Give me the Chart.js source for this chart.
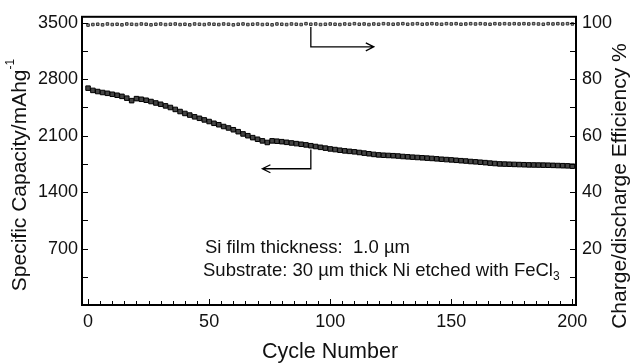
<!DOCTYPE html>
<html>
<head>
<meta charset="utf-8">
<script src="https://cdn.jsdelivr.net/npm/chart.js@4.4.0/dist/chart.umd.min.js"></script>
<style>
html, body { margin: 0; padding: 0; background: #fff; }
#wrap { width: 632px; height: 363px; position: relative; }
</style>
</head>
<body>
<div id="wrap"><canvas id="chartCanvasCiclos" width="632" height="363"></canvas></div>
<script>
// cycles sampled every 2
var ciclos = [];
for (var ci = 0; ci <= 200; ci += 2) ciclos.push(ci);

var capacidad = [
  2690, 2662, 2648, 2636, 2626, 2614, 2602, 2588, 2566, 2535,
  2560, 2552, 2540, 2524, 2506, 2490, 2470, 2450, 2426, 2400,
  2376, 2356, 2334, 2316, 2296, 2276, 2254, 2236, 2214, 2196,
  2174, 2150, 2122, 2100, 2076, 2056, 2036, 2016, 2036, 2032,
  2026, 2018, 2010, 2002, 1994, 1986, 1976, 1966, 1956, 1946,
  1936, 1928, 1920, 1912, 1906, 1900, 1892, 1884, 1876, 1868,
  1862, 1858, 1855, 1852, 1848, 1842, 1838, 1834, 1830, 1826,
  1822, 1818, 1813, 1808, 1804, 1800, 1795, 1790, 1786, 1780,
  1776, 1771, 1766, 1760, 1755, 1750, 1748, 1746, 1744, 1742,
  1740, 1738, 1737, 1736, 1735, 1734, 1732, 1730, 1728, 1726,
  1722
];

var eficiencia = [
  99.2, 99.4, 99.5, 99.3, 99.6, 99.4, 99.5, 99.3, 99.6, 99.5,
  99.4, 99.6, 99.5, 99.3, 99.5, 99.6, 99.4, 99.5, 99.6, 99.4,
  99.5, 99.3, 99.6, 99.5, 99.4, 99.6, 99.5, 99.4, 99.6, 99.5,
  99.3, 99.5, 99.6, 99.4, 99.5, 99.6, 99.4, 99.5, 99.3, 99.6,
  99.5, 99.4, 99.6, 99.5, 99.4, 99.7, 99.5, 99.6, 99.4, 99.5,
  99.6, 99.5, 99.4, 99.6, 99.5, 99.7, 99.5, 99.6, 99.4, 99.6,
  99.5, 99.7, 99.6, 99.5, 99.6, 99.7, 99.5, 99.6, 99.7, 99.5,
  99.6, 99.7, 99.6, 99.5, 99.7, 99.6, 99.7, 99.5, 99.6, 99.7,
  99.6, 99.7, 99.6, 99.5, 99.7, 99.6, 99.7, 99.6, 99.7, 99.6,
  99.7, 99.6, 99.7, 99.6, 99.5, 99.7, 99.6, 99.7, 99.6, 99.7,
  99.6
];

var ticksX = [0, 50, 100, 150, 200];
var ticksCap = [700, 1400, 2100, 2800, 3500];
var ticksEf = [20, 40, 60, 80, 100];

var FONT = '"Liberation Sans", Arial, Helvetica, sans-serif';
var capMax = 3575;
var efMax = capMax / 35;

var puntosCap = ciclos.map(function (c, i) { return { x: c, y: capacidad[i] }; });
var puntosEf = ciclos.map(function (c, i) { return { x: c, y: eficiencia[i] }; });

function fijarTicks(lista) {
  return function (scale) { scale.ticks = lista.map(function (v) { return { value: v }; }); };
}
function sinComas(value) { return String(value); }

// frame, inner ticks, arrows, notes, axis titles
var extrasPlugin = {
  id: 'extras',
  afterDraw: function (chart) {
    var ctx = chart.ctx;
    var a = chart.chartArea;
    var sx = chart.scales.x, sy = chart.scales.y, sy2 = chart.scales.y2;
    ctx.save();
    ctx.strokeStyle = '#000';
    ctx.lineWidth = 2;
    ctx.strokeRect(a.left, a.top, a.right - a.left, a.bottom - a.top);

    ctx.lineWidth = 1;
    ctx.beginPath();
    for (var t = 0; t <= 200; t += 5) {
      var px = Math.round(sx.getPixelForValue(t)) + 0.5;
      var len = (t % 50 === 0) ? 6 : 4;
      ctx.moveTo(px, a.bottom);
      ctx.lineTo(px, a.bottom - len);
    }
    for (var v = 350; v <= 3500; v += 350) {
      var py = Math.round(sy.getPixelForValue(v)) + 0.5;
      ctx.moveTo(a.left, py);
      ctx.lineTo(a.left + 6, py);
    }
    for (var e = 10; e <= 100; e += 10) {
      var py2 = Math.round(sy2.getPixelForValue(e)) + 0.5;
      ctx.moveTo(a.right, py2);
      ctx.lineTo(a.right - 6, py2);
    }
    ctx.stroke();

    // arrow to right axis
    ctx.lineWidth = 1.3;
    var ax = sx.getPixelForValue(92);
    var y1 = sy2.getPixelForValue(98.5), y2 = sy2.getPixelForValue(91.5);
    var xr = sx.getPixelForValue(118);
    ctx.beginPath();
    ctx.moveTo(ax, y1); ctx.lineTo(ax, y2); ctx.lineTo(xr, y2);
    ctx.moveTo(xr - 8, y2 - 4); ctx.lineTo(xr, y2); ctx.lineTo(xr - 8, y2 + 4);
    ctx.stroke();

    // arrow to left axis
    var by1 = sy.getPixelForValue(1930), by2 = sy.getPixelForValue(1690);
    var xl = sx.getPixelForValue(72);
    ctx.beginPath();
    ctx.moveTo(ax, by1); ctx.lineTo(ax, by2); ctx.lineTo(xl, by2);
    ctx.moveTo(xl + 8, by2 - 4); ctx.lineTo(xl, by2); ctx.lineTo(xl + 8, by2 + 4);
    ctx.stroke();

    // notes
    ctx.fillStyle = '#111';
    ctx.textBaseline = 'middle';
    ctx.textAlign = 'left';
    ctx.font = '18.5px ' + FONT;
    ctx.fillText('Si film thickness:  1.0 \u00b5m', 205, 248);
    var s2 = 'Substrate: 30 \u00b5m thick Ni etched with FeCl';
    ctx.fillText(s2, 203, 271);
    var w2 = ctx.measureText(s2).width;
    ctx.font = '12px ' + FONT;
    ctx.fillText('3', 203 + w2, 277);

    // axis titles
    ctx.font = '21.5px ' + FONT;
    ctx.textAlign = 'center';
    ctx.fillText('Cycle Number', 330, 352);

    ctx.save();
    ctx.translate(20, 175);
    ctx.rotate(-Math.PI / 2);
    var t1 = 'Specific Capacity/mAhg';
    ctx.font = '21px ' + FONT;
    var w1 = ctx.measureText(t1).width;
    ctx.font = '12px ' + FONT;
    var ws = ctx.measureText('-1').width;
    var x0 = -(w1 + ws) / 2;
    ctx.textAlign = 'left';
    ctx.font = '21px ' + FONT;
    ctx.fillText(t1, x0, 0);
    ctx.font = '12px ' + FONT;
    ctx.fillText('-1', x0 + w1, -9);
    ctx.restore();

    ctx.save();
    ctx.translate(620, 186);
    ctx.rotate(-Math.PI / 2);
    ctx.font = '21px ' + FONT;
    ctx.textAlign = 'center';
    ctx.fillText('Charge/discharge Efficiency %', 0, 0);
    ctx.restore();

    ctx.restore();
  }
};

var tickFont = { family: FONT, size: 18 };

new Chart(document.getElementById('chartCanvasCiclos'), {
  type: 'scatter',
  data: {
    datasets: [{
      label: 'Efficiency',
      data: puntosEf,
      yAxisID: 'y2',
      pointStyle: 'rect',
      pointRadius: 1.8,
      borderWidth: 1,
      borderColor: '#333',
      backgroundColor: '#999'
    }, {
      label: 'Capacity',
      data: puntosCap,
      yAxisID: 'y',
      pointStyle: 'rect',
      pointRadius: 3.2,
      borderWidth: 1,
      borderColor: '#000',
      backgroundColor: '#444'
    }]
  },
  options: {
    responsive: false,
    animation: false,
    layout: { padding: { top: 16, left: 0, right: 0, bottom: 0 } },
    plugins: { legend: { display: false }, tooltip: { enabled: false } },
    scales: {
      x: {
        type: 'linear', min: -2.5, max: 201.5,
        afterBuildTicks: fijarTicks(ticksX),
        afterFit: function (s) { s.height = 58; },
        grid: { display: false, drawTicks: false },
        border: { display: false },
        ticks: { font: tickFont, color: '#111', padding: 6, maxRotation: 0, callback: sinComas }
      },
      y: {
        position: 'left', min: 0, max: capMax,
        afterBuildTicks: fijarTicks(ticksCap),
        afterFit: function (s) { s.width = 82; },
        grid: { display: false, drawTicks: false },
        border: { display: false },
        ticks: { font: tickFont, color: '#111', padding: 4, callback: sinComas }
      },
      y2: {
        position: 'right', min: 0, max: efMax,
        afterBuildTicks: fijarTicks(ticksEf),
        afterFit: function (s) { s.width = 56; },
        grid: { display: false, drawTicks: false },
        border: { display: false },
        ticks: { font: tickFont, color: '#111', padding: 6, callback: sinComas }
      }
    }
  },
  plugins: [extrasPlugin]
});
</script>
</body>
</html>
